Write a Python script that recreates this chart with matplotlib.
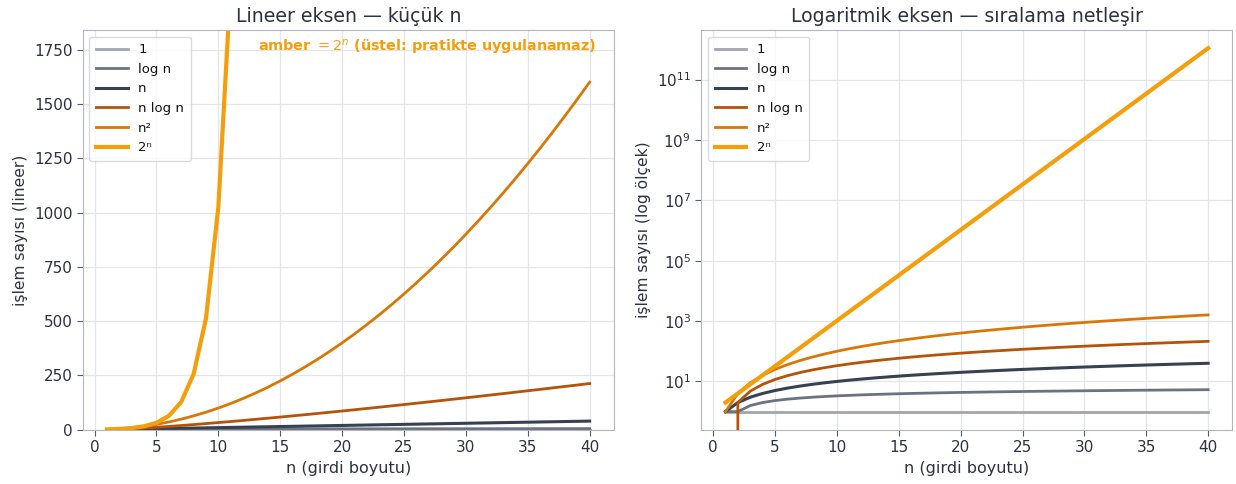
import matplotlib
matplotlib.use("Agg")
import matplotlib.pyplot as plt

# n = 1..40 (log tabanı 2)
n_vals = list(range(1, 41))
const_vals = [1] * 40
log_vals = [1.0, 1.0, 1.585, 2.0, 2.322, 2.585, 2.807, 3.0, 3.170, 3.322,
            3.459, 3.585, 3.700, 3.807, 3.907, 4.0, 4.087, 4.170, 4.248, 4.322,
            4.392, 4.459, 4.524, 4.585, 4.644, 4.700, 4.755, 4.807, 4.858, 4.907,
            4.954, 5.0, 5.044, 5.087, 5.129, 5.170, 5.209, 5.248, 5.285, 5.322]
lin_vals = [1, 2, 3, 4, 5, 6, 7, 8, 9, 10, 11, 12, 13, 14, 15, 16, 17, 18, 19, 20,
            21, 22, 23, 24, 25, 26, 27, 28, 29, 30, 31, 32, 33, 34, 35, 36, 37, 38, 39, 40]
nlog_vals = [0, 2, 4.755, 8, 11.61, 15.51, 19.65, 24, 28.53, 33.22,
             38.05, 43.02, 48.11, 53.30, 58.60, 64, 69.49, 75.06, 80.71, 86.44,
             92.24, 98.11, 104.04, 110.04, 116.10, 122.21, 128.38, 134.61, 140.88, 147.21,
             153.58, 160, 166.47, 172.97, 179.52, 186.12, 192.75, 199.42, 206.13, 212.88]
sq_vals = [1, 4, 9, 16, 25, 36, 49, 64, 81, 100, 121, 144, 169, 196, 225, 256, 289, 324,
           361, 400, 441, 484, 529, 576, 625, 676, 729, 784, 841, 900, 961, 1024, 1089,
           1156, 1225, 1296, 1369, 1444, 1521, 1600]
exp_vals = [2, 4, 8, 16, 32, 64, 128, 256, 512, 1024, 2048, 4096, 8192, 16384, 32768,
            65536, 131072, 262144, 524288, 1048576, 2097152, 4194304, 8388608, 16777216,
            33554432, 67108864, 134217728, 268435456, 536870912, 1073741824, 2147483648,
            4294967296, 8589934592, 17179869184, 34359738368, 68719476736, 137438953472,
            274877906944, 549755813888, 1099511627776]

labels = ["1", "log n", "n", "n log n", "n²", "2ⁿ"]
series = [const_vals, log_vals, lin_vals, nlog_vals, sq_vals, exp_vals]
colors = ["#a1a5ae", "#6b7280", "#374151", "#b45309", "#d97706", "#f59e0b"]
widths = [2.0, 2.0, 2.2, 2.0, 2.0, 3.0]

text_c = "#2b3240"
spine_c = "#b2b6bf"
plt.rcParams["font.family"] = ["DejaVu Sans"]

fig, (ax1, ax2) = plt.subplots(1, 2, figsize=(12.36, 4.84), dpi=100)
fig.subplots_adjust(left=0.067, right=0.997, bottom=0.112, top=0.938, wspace=0.165)

for ax in (ax1, ax2):
    for lab, ys, c, w in zip(labels, series, colors, widths):
        ax.plot(n_vals, ys, color=c, lw=w, label=lab)
    ax.grid(True, color="#e3e5ea", lw=0.9)
    ax.set_axisbelow(True)
    for s in ax.spines.values():
        s.set_color(spine_c)
    ax.tick_params(colors=text_c, labelsize=11, length=4, color="#555c68")
    ax.set_xlabel("n (girdi boyutu)", fontsize=11.5, color=text_c)
    ax.set_xticks([0, 5, 10, 15, 20, 25, 30, 35, 40])
    leg = ax.legend(loc="upper left", fontsize=9.5, frameon=True, fancybox=True,
                    handlelength=2.4, borderpad=0.5, labelspacing=0.5)
    leg.get_frame().set_edgecolor("#cfd2d8")
    for t in leg.get_texts():
        t.set_color("#111111")

ax1.set_ylim(0, 1840)
ax1.set_yticks([0, 250, 500, 750, 1000, 1250, 1500, 1750])
ax1.set_ylabel("işlem sayısı (lineer)", fontsize=11.2, color=text_c)
ax1.set_title("Lineer eksen — küçük n", fontsize=13.6, color=text_c)
ax1.text(0.968, 0.955, "amber $= 2^n$ (üstel: pratikte uygulanamaz)", transform=ax1.transAxes,
         ha="right", va="center", fontsize=10.4, fontweight="bold", color="#f59e0b")

ax2.set_yscale("log")
ax2.set_yticks([1e1, 1e3, 1e5, 1e7, 1e9, 1e11])
ax2.minorticks_off()
ax2.set_ylabel("işlem sayısı (log ölçek)", fontsize=11.2, color=text_c)
ax2.set_title("Logaritmik eksen — sıralama netleşir", fontsize=13.6, color=text_c)

fig.savefig("out.png", dpi=100)
